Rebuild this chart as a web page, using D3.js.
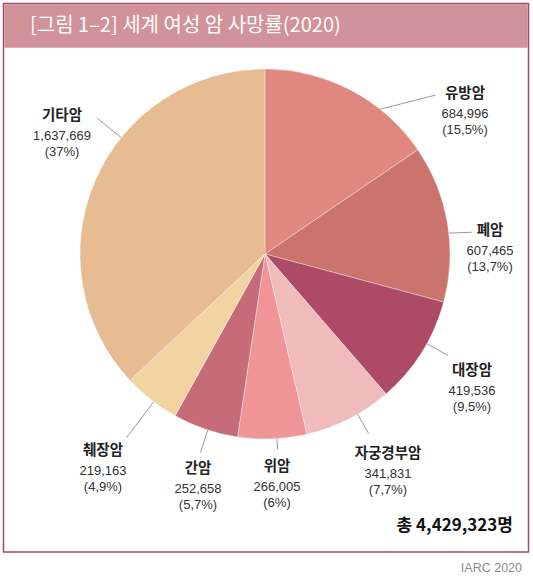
<!DOCTYPE html>
<html>
<head>
<meta charset="utf-8">
<script src="https://cdn.jsdelivr.net/npm/d3@7"></script>
<style>
  body { margin: 0; background: #fff; }
  text { font-family: "Liberation Sans", Arial, sans-serif; }
  .kr { font-family: "Noto Sans CJK KR", "Noto Sans", sans-serif; }
</style>
</head>
<body>
<div id="chart"></div>
<script>
// data, clockwise from 12 o'clock
var cancers = ["유방암", "폐암", "대장암", "자궁경부암", "위암", "간암", "췌장암", "기타암"];
var deaths = [684996, 607465, 419536, 341831, 266005, 252658, 219163, 1637669];
var colors = ["#e0877f", "#cb746e", "#ad4b67", "#f0bbbb", "#ef9598", "#c66c78", "#f2d4a2", "#e8bc93"];

var titleText = "[그림 1–2] 세계 여성 암 사망률(2020)";
var sourceText = "IARC 2020";

// leader line angles (deg) and label offsets from the pie centre
var leaders = [
  {a0: 38.5, a1: 47, r1: 233, dx: 200, dy: -161},
  {a0: 83.5, a1: 84, r1: 208, dx: 225, dy: -24},
  {a0: 119, a1: 119, r1: 209, dx: 207, dy: 116},
  {a0: 150, a1: 150, r1: 207, dx: 123, dy: 199},
  {a0: 176.3, a1: 176.3, r1: 196, dx: 12, dy: 212},
  {a0: 198, a1: 198, r1: 209, dx: -67, dy: 214},
  {a0: 217, a1: 217, r1: 230, dx: -162, dy: 196},
  {a0: 309, a1: 309, r1: 216, dx: -203, dy: -139}
];

var width = 533;
var height = 580;
var cx = 265, cy = 254, radius = 185;

var svg = d3.select("#chart")
    .append("svg")
    .attr("width", width)
    .attr("height", height);

// frame + title bar
svg.append("rect")
    .attr("x", 3.5).attr("y", 3.5)
    .attr("width", 525).attr("height", 548.5)
    .attr("fill", "#fff")
    .attr("stroke", "#a2486f")
    .attr("stroke-width", 1.5);

svg.append("rect")
    .attr("x", 4.25).attr("y", 4.25)
    .attr("width", 523.5).attr("height", 43.5)
    .attr("fill", "#d2929a");

svg.append("text")
    .attr("class", "kr")
    .attr("x", 30).attr("y", 32)
    .attr("fill", "#fff")
    .attr("font-size", 20)
    .text(titleText);

var total = d3.sum(deaths);
var fmtNum = d3.format(",");
var fmtPct = function(v) {
  var s = (Math.round(v / total * 1000) / 10).toFixed(1);
  return "(" + s.replace(/\.0$/, "").replace(".", ",") + "%)";
};

var pie = d3.pie().sort(null).value(function(d) { return d; });
var arcs = pie(deaths);

var arc = d3.arc().innerRadius(0).outerRadius(radius);

var g = svg.append("g").attr("transform", "translate(" + cx + "," + cy + ")");

g.selectAll("path.slice")
    .data(arcs)
    .enter().append("path")
    .attr("class", "slice")
    .attr("d", arc)
    .attr("fill", function(d, i) { return colors[i]; })
    .attr("stroke", "#fff")
    .attr("stroke-opacity", 0.5)
    .attr("stroke-width", 0.7);

function polar(r, deg) {
  var a = deg * Math.PI / 180;
  return [r * Math.sin(a), -r * Math.cos(a)];
}

// leader lines
g.selectAll("line.leader")
    .data(leaders)
    .enter().append("line")
    .attr("class", "leader")
    .attr("x1", function(d) { return polar(radius, d.a0)[0]; })
    .attr("y1", function(d) { return polar(radius, d.a0)[1]; })
    .attr("x2", function(d) { return polar(d.r1, d.a1)[0]; })
    .attr("y2", function(d) { return polar(d.r1, d.a1)[1]; })
    .attr("stroke", "#9a9a9a")
    .attr("stroke-width", 1);

var labels = g.selectAll("g.label")
    .data(arcs)
    .enter().append("g")
    .attr("class", "label")
    .attr("transform", function(d, i) { return "translate(" + leaders[i].dx + "," + leaders[i].dy + ")"; })
    .attr("text-anchor", "middle");

labels.append("text")
    .attr("class", "kr")
    .attr("y", 5)
    .attr("font-size", 14.5)
    .attr("font-weight", "bold")
    .attr("fill", "#222")
    .text(function(d, i) { return cancers[i]; });

labels.append("text")
    .attr("y", 24.5)
    .attr("font-size", 13)
    .attr("fill", "#333")
    .text(function(d) { return fmtNum(d.data); });

labels.append("text")
    .attr("y", 41)
    .attr("font-size", 13)
    .attr("fill", "#333")
    .text(function(d) { return fmtPct(d.data); });

// total
svg.append("text")
    .attr("class", "kr")
    .attr("x", 513).attr("y", 531)
    .attr("text-anchor", "end")
    .attr("font-size", 17)
    .attr("font-weight", "bold")
    .attr("fill", "#111")
    .text("총 " + fmtNum(total) + "명");

svg.append("text")
    .attr("x", 522).attr("y", 572)
    .attr("text-anchor", "end")
    .attr("font-size", 12.5)
    .attr("fill", "#8a8a8a")
    .text(sourceText);
</script>
</body>
</html>
